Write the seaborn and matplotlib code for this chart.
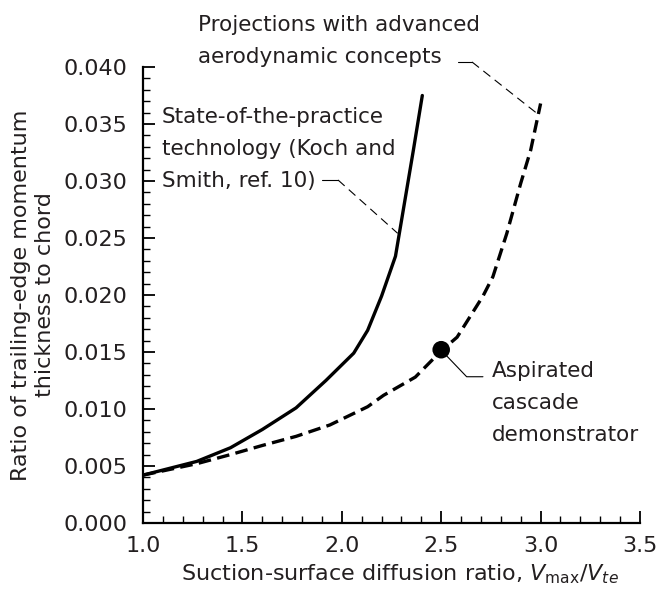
import matplotlib
matplotlib.use("Agg")
import matplotlib.pyplot as plt
from matplotlib.ticker import MultipleLocator, FormatStrFormatter
import seaborn as sns
import pandas as pd

# ---- data ----
solid_x = [1.00, 1.27, 1.44, 1.60, 1.77, 1.92, 2.06, 2.13, 2.20, 2.27, 2.36, 2.405]
solid_y = [0.0042, 0.0054, 0.0066, 0.0082, 0.0101, 0.0125, 0.0149, 0.0169, 0.0199, 0.0234, 0.0327, 0.0375]

dashed_x = [1.00, 1.27, 1.44, 1.60, 1.77, 1.94, 2.13, 2.21, 2.37, 2.50, 2.58, 2.71, 2.76, 2.83, 2.90, 2.95, 3.00]
dashed_y = [0.0042, 0.0052, 0.0060, 0.0068, 0.0076, 0.0086, 0.0102, 0.0112, 0.0128, 0.0151, 0.0163, 0.0199, 0.0216, 0.0254, 0.0298, 0.0327, 0.0368]

point_x = [2.5]
point_y = [0.0152]

x_ticks = [1.0, 1.5, 2.0, 2.5, 3.0, 3.5]
y_ticks = [0.000, 0.005, 0.010, 0.015, 0.020, 0.025, 0.030, 0.035, 0.040]

label_practice = "State-of-the-practice\ntechnology (Koch and\nSmith, ref. 10)"
label_projection = "Projections with advanced\naerodynamic concepts"
label_point = "Aspirated\ncascade\ndemonstrator"

sns.set_theme(style="ticks")
plt.rcParams["font.family"] = ["DejaVu Sans"]
plt.rcParams["mathtext.fontset"] = "dejavusans"

FS = 16
FS_NOTE = 15.5
ink = "#231f20"

fig = plt.figure(figsize=(6.58, 5.91), dpi=100)
ax = fig.add_axes([143 / 658, 68 / 591, 497 / 658, 456 / 591])

solid_df = pd.DataFrame({"x": solid_x, "y": solid_y})
dashed_df = pd.DataFrame({"x": dashed_x, "y": dashed_y})

sns.lineplot(data=solid_df, x="x", y="y", ax=ax, color="black", lw=2.4,
             sort=False, estimator=None)
sns.lineplot(data=dashed_df, x="x", y="y", ax=ax, color="black", lw=2.4,
             sort=False, estimator=None, dashes=False)
ax.lines[-1].set_dashes((3.8, 1.9))
sns.scatterplot(x=point_x, y=point_y, ax=ax, color="black", s=160,
                edgecolor="none", zorder=5)

ax.set_xlim(1.0, 3.5)
ax.set_ylim(0.0, 0.040)
ax.set_xticks(x_ticks)
ax.set_yticks(y_ticks)
ax.xaxis.set_major_formatter(FormatStrFormatter("%.1f"))
ax.yaxis.set_major_formatter(FormatStrFormatter("%.3f"))
ax.xaxis.set_minor_locator(MultipleLocator(0.1))
ax.yaxis.set_minor_locator(MultipleLocator(0.001))

sns.despine(ax=ax)
for s in ("left", "bottom"):
    ax.spines[s].set_linewidth(1.6)
    ax.spines[s].set_color("black")
ax.tick_params(which="major", direction="in", length=8.5, width=1.3,
               color="black", labelsize=FS, labelcolor=ink)
ax.tick_params(axis="y", which="major", pad=11)
ax.tick_params(axis="x", which="major", pad=9)
ax.tick_params(which="minor", direction="in", length=5, width=1.0, color="black")

ax.set_xlabel(r"Suction-surface diffusion ratio, $V_{\mathrm{max}}/V_{te}$",
              fontsize=FS, color=ink, va="center")
ax.xaxis.set_label_coords(0.517, -0.112)
ax.set_ylabel("Ratio of trailing-edge momentum\nthickness to chord",
              fontsize=FS, color=ink, va="center", linespacing=1.25)
ax.yaxis.set_label_coords(-0.221, 0.5)

# ---- annotations (va="baseline" aligns the last line) ----
ax.text(1.0956, 0.02947, label_practice, fontsize=FS_NOTE, color=ink,
        ha="left", va="baseline", linespacing=1.75)
ax.plot([1.899, 1.981], [0.03009, 0.03009], color="black", lw=0.8)
ax.plot([1.981, 2.281], [0.03009, 0.02541], color="black", lw=0.8,
        dashes=(8, 5))

ax.text(1.2767, 0.04035, label_projection, fontsize=FS_NOTE, color=ink,
        ha="left", va="baseline", linespacing=1.75, clip_on=False)
ax.plot([2.5845, 2.655], [0.04044, 0.04044], color="black", lw=0.8, clip_on=False)
ax.plot([2.655, 2.992], [0.04044, 0.03579], color="black", lw=0.8,
        dashes=(8, 5), clip_on=False)

ax.text(2.754, 0.00719, label_point, fontsize=FS_NOTE, color=ink,
        ha="left", va="baseline", linespacing=1.75)
ax.plot([2.499, 2.628, 2.710], [0.01518, 0.01283, 0.01283], color="black", lw=0.8)

fig.savefig("out.png", dpi=100)
